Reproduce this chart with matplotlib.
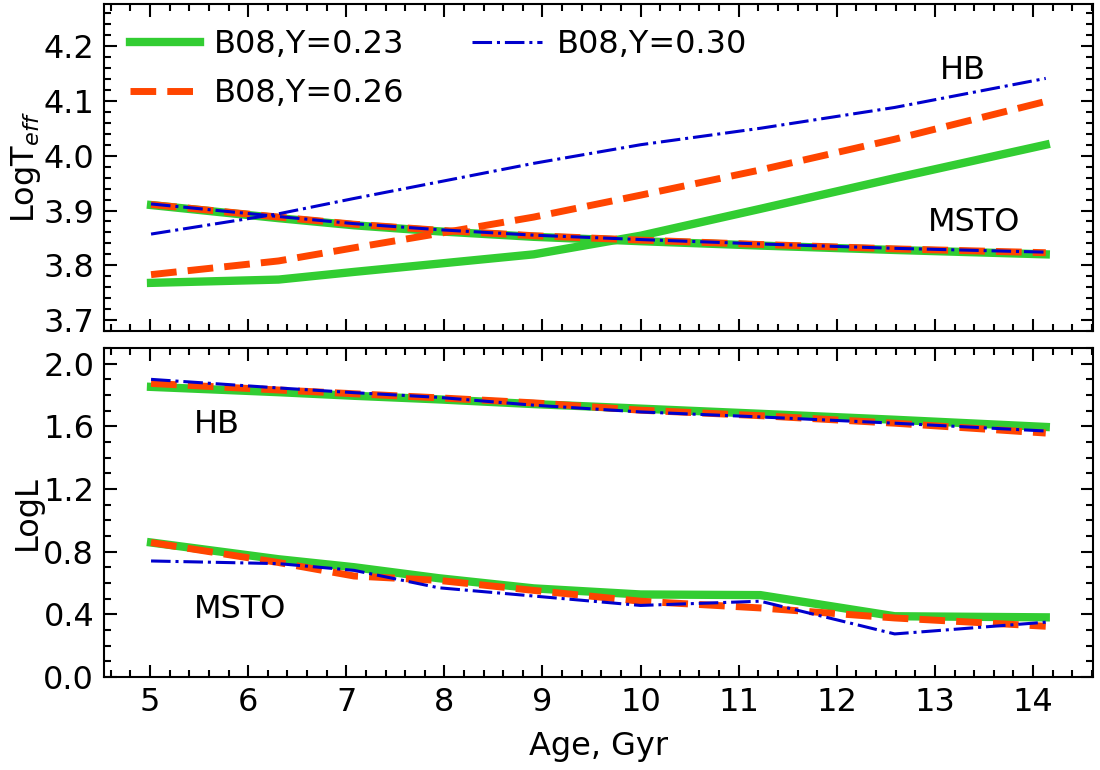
import matplotlib
matplotlib.use('Agg')
import matplotlib.pyplot as plt
from matplotlib.ticker import MultipleLocator

# ages (Gyr), log age 9.70 ... 10.15
age = [5.01, 6.31, 7.08, 7.94, 8.91, 10.0, 11.22, 12.59, 14.13]

# LogTeff
teff_hb_023 = [3.768, 3.774, 3.788, 3.803, 3.820, 3.854, 3.903, 3.959, 4.020]
teff_hb_026 = [3.783, 3.808, 3.832, 3.858, 3.888, 3.928, 3.974, 4.030, 4.099]
teff_hb_030 = [3.857, 3.894, 3.922, 3.952, 3.986, 4.020, 4.050, 4.088, 4.141]
teff_ms_023 = [3.910, 3.886, 3.873, 3.862, 3.852, 3.844, 3.836, 3.828, 3.820]
teff_ms_026 = [3.911, 3.888, 3.875, 3.864, 3.854, 3.846, 3.838, 3.830, 3.823]
teff_ms_030 = [3.912, 3.889, 3.876, 3.865, 3.855, 3.847, 3.839, 3.831, 3.824]

# LogL
lum_hb_023 = [1.852, 1.818, 1.795, 1.772, 1.742, 1.713, 1.680, 1.642, 1.596]
lum_hb_026 = [1.874, 1.832, 1.808, 1.782, 1.750, 1.703, 1.668, 1.620, 1.557]
lum_hb_030 = [1.900, 1.845, 1.815, 1.785, 1.735, 1.692, 1.660, 1.620, 1.570]
lum_ms_023 = [0.858, 0.751, 0.700, 0.630, 0.565, 0.526, 0.522, 0.387, 0.380]
lum_ms_026 = [0.858, 0.730, 0.644, 0.616, 0.552, 0.483, 0.440, 0.376, 0.323]
lum_ms_030 = [0.740, 0.723, 0.680, 0.569, 0.516, 0.456, 0.483, 0.274, 0.349]

labels = ['B08,Y=0.23', 'B08,Y=0.26', 'B08,Y=0.30']
colors = ['limegreen', 'orangered', 'mediumblue']
styles = ['-', '--', '-.']
widths = [6, 5, 2.2]

plt.rcParams['font.size'] = 23

fig = plt.figure(figsize=(11, 7.7), dpi=100)
ax1 = fig.add_axes([0.0945, 0.570, 0.899, 0.425])
ax2 = fig.add_axes([0.0945, 0.121, 0.899, 0.427])

hb_t = [teff_hb_023, teff_hb_026, teff_hb_030]
ms_t = [teff_ms_023, teff_ms_026, teff_ms_030]
hb_l = [lum_hb_023, lum_hb_026, lum_hb_030]
ms_l = [lum_ms_023, lum_ms_026, lum_ms_030]

for i in range(3):
    ax1.plot(age, hb_t[i], ls=styles[i], color=colors[i], lw=widths[i], label=labels[i])
    ax1.plot(age, ms_t[i], ls=styles[i], color=colors[i], lw=widths[i])
    ax2.plot(age, hb_l[i], ls=styles[i], color=colors[i], lw=widths[i])
    ax2.plot(age, ms_l[i], ls=styles[i], color=colors[i], lw=widths[i])

ax1.legend(loc='upper left', ncol=2, frameon=False, fontsize=23,
           handlelength=2.2, handletextpad=0.45, labelspacing=0.55,
           columnspacing=2.1, borderaxespad=0.4)

ax1.text(13.29, 4.156, 'HB', ha='center', va='center')
ax1.text(13.4, 3.878, 'MSTO', ha='center', va='center')
ax2.text(5.68, 1.61, 'HB', ha='center', va='center')
ax2.text(5.92, 0.43, 'MSTO', ha='center', va='center')

ax1.set_xlim(4.53, 14.61)
ax2.set_xlim(4.53, 14.61)
ax1.set_ylim(3.68, 4.277)
ax2.set_ylim(0.0, 2.1)

ax1.xaxis.set_major_locator(MultipleLocator(1))
ax1.xaxis.set_minor_locator(MultipleLocator(0.2))
ax2.xaxis.set_major_locator(MultipleLocator(1))
ax2.xaxis.set_minor_locator(MultipleLocator(0.2))
ax1.yaxis.set_major_locator(MultipleLocator(0.1))
ax1.yaxis.set_minor_locator(MultipleLocator(0.02))
ax2.yaxis.set_major_locator(MultipleLocator(0.4))
ax2.yaxis.set_minor_locator(MultipleLocator(0.1))

ax1.set_xticklabels([])
ax1.set_ylabel('LogT$_{eff}$')
ax2.set_ylabel('LogL')
ax2.set_xlabel('Age, Gyr', labelpad=10)

for ax in (ax1, ax2):
    ax.tick_params(which='both', direction='in', top=True, right=True, width=1.5)
    ax.tick_params(which='major', length=9, pad=7)
    ax.tick_params(which='minor', length=5)
    for s in ax.spines.values():
        s.set_linewidth(1.5)

ax1.yaxis.set_label_coords(-0.062, 0.5)
ax2.yaxis.set_label_coords(-0.062, 0.5)

plt.savefig('out.png', dpi=100)
